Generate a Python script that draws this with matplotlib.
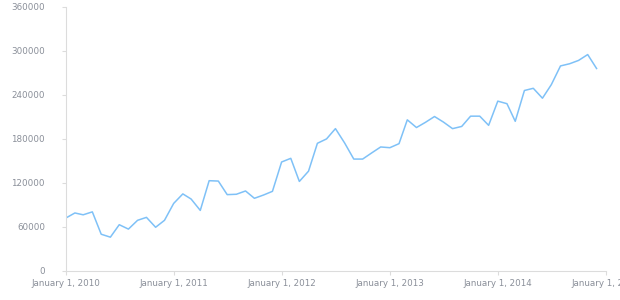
import matplotlib
matplotlib.use("Agg")
import matplotlib.pyplot as plt
import matplotlib.dates as mdates
import pandas as pd

# monthly values, Jan 2010 .. Dec 2014
months = pd.date_range("2010-01-01", periods=60, freq="MS")
values = [
    72000, 79000, 76500, 80500, 50000, 46000, 63000, 57000, 69000, 73000, 59500, 69000,
    92000, 105000, 98000, 82500, 123000, 122500, 104000, 104500, 109000, 99000, 103500, 108500,
    148500, 153500, 122000, 136000, 174000, 180000, 194000, 174500, 152500, 152500, 161000, 169000,
    168000, 173500, 206000, 195500, 202500, 210500, 203000, 194000, 197000, 211000, 211000, 198500,
    231500, 228000, 204000, 246000, 249000, 235500, 254000, 279500, 282500, 287000, 295000, 276000,
]
y_ticks = [0, 60000, 120000, 180000, 240000, 300000, 360000]
x_ticks = pd.date_range("2010-01-01", periods=6, freq="YS")


def main():
    fig = plt.figure(figsize=(6.2, 3.0), dpi=100)
    ax = fig.add_axes([0.106, 0.097, 0.871, 0.88])

    ax.plot(months, values, color="#7fc1f7", linewidth=1.1)

    ax.set_ylim(0, 360000)
    ax.set_yticks(y_ticks)
    ax.set_yticklabels([str(v) for v in y_ticks])
    ax.set_xlim(x_ticks[0], x_ticks[-1])
    ax.set_xticks(x_ticks)
    ax.set_xticklabels([f"January 1, {d.year}" for d in x_ticks])

    for side in ("top", "right"):
        ax.spines[side].set_visible(False)
    for side in ("left", "bottom"):
        ax.spines[side].set_color("#dcdcdc")
        ax.spines[side].set_linewidth(0.8)

    ax.tick_params(axis="both", colors="#dcdcdc", labelcolor="#8a8f99",
                   labelsize=6.3, length=3, width=0.8, pad=3)
    ax.tick_params(axis="y", pad=12)

    fig.savefig("out.png", dpi=100)


if __name__ == "__main__":
    main()
